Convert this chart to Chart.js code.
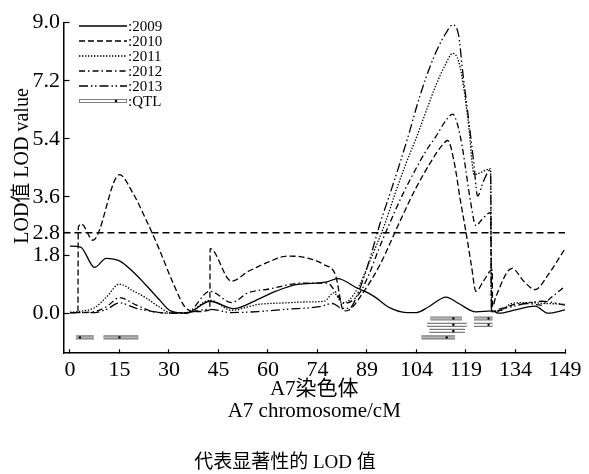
<!DOCTYPE html>
<html>
<head>
<meta charset="utf-8">
<script src="https://cdn.jsdelivr.net/npm/chart.js@4.4.1/dist/chart.umd.min.js"></script>
<style>
  html, body { margin: 0; padding: 0; background: #fff; }
  #wrap { width: 589px; height: 474px; }
</style>
</head>
<body>
<div id="wrap"><canvas id="c" width="589" height="474"></canvas></div>
<script>
// ---------- data ----------
const seriesNames = ['2009', '2010', '2011', '2012', '2013'];
const legendLabels = [':2009', ':2010', ':2011', ':2012', ':2013', ':QTL'];

const x2009 = [0, 3.2, 7.4, 10.9, 14.9, 18.9, 22.8, 26.8, 30.3, 35, 42.2, 49.2, 56.6, 62, 68.5, 77, 80.5, 86.4, 91.4, 96.2, 101.3, 104.3, 108, 113.2, 117, 122.2, 127.1, 129.1, 134, 140, 143.9, 149];
const lod2009 = [2.08, 2.05, 1.42, 1.70, 1.62, 1.29, 0.88, 0.43, 0.07, 0.0, 0.37, 0.14, 0.43, 0.68, 0.89, 0.96, 1.07, 0.78, 0.53, 0.17, 0.02, 0.02, 0.2, 0.5, 0.3, 0.04, 0.07, 0.0, 0.1, 0.22, 0.0, 0.1];

const x2010 = [0, 2.4, 2.5, 3.5, 6.9, 14.9, 18.9, 22.8, 26.8, 30.8, 34.8, 38, 42.1, 42.2, 48.6, 53.6, 56.6, 60, 65.6, 71, 76.5, 79.9, 82.4, 84, 88, 93.3, 99.2, 104, 109, 112, 113.7, 115.7, 117.5, 119.2, 120.8, 122.2, 124.5, 127.1, 127.2, 128.1, 133.1, 136.5, 140, 144, 149];
const lod2010 = [0.02, 0.02, 2.65, 2.76, 2.26, 4.29, 3.73, 2.92, 2.0, 0.99, 0.17, 0.05, 0.1, 2.0, 0.99, 1.29, 1.44, 1.6, 1.77, 1.72, 1.5, 1.19, 0.07, 0.1, 0.6, 1.5, 2.82, 3.85, 4.75, 5.2, 5.35, 4.65, 3.5, 2.51, 1.5, 0.68, 1.0, 1.34, 0.2, 0.48, 1.39, 1.0, 0.73, 1.2, 2.0];

const x2011 = [0, 2.5, 7.4, 11, 14.9, 18.9, 22.8, 26.8, 30.3, 35, 42.2, 48.6, 56.6, 65, 72, 76.5, 79.4, 82, 84, 87, 90, 94.9, 98, 101, 104.3, 107, 110.3, 113, 115.2, 117, 118.5, 120, 121.7, 123.2, 126.6, 126.9, 130, 133, 138, 143, 149];
const lod2011 = [0.03, 0.05, 0.17, 0.5, 0.9, 0.7, 0.48, 0.2, 0.02, 0.02, 0.4, 0.09, 0.27, 0.32, 0.35, 0.37, 0.63, 0.32, 0.4, 0.85, 1.55, 2.8, 3.75, 4.6, 5.45, 6.2, 7.1, 7.7, 8.05, 7.8, 7.0, 5.8, 4.29, 4.34, 4.47, 0.05, 0.1, 0.3, 0.33, 0.3, 0.28];

const x2012 = [0, 2.5, 7.4, 11, 14.9, 20, 25, 30, 35, 42.2, 48.6, 53.6, 60, 69.7, 77.5, 80, 82.5, 87, 90, 93, 96.3, 100, 104, 107, 110.3, 113, 115.2, 116.5, 118, 119.2, 120.5, 122.2, 124, 126.6, 126.9, 130, 133, 138, 141.5, 145, 149];
const lod2012 = [0.02, 0.02, 0.05, 0.2, 0.48, 0.25, 0.05, 0.0, 0.0, 0.68, 0.33, 0.63, 0.75, 0.93, 0.93, 0.65, 0.3, 0.6, 1.2, 2.0, 2.8, 3.65, 4.45, 5.0, 5.5, 5.95, 6.17, 5.9, 5.2, 4.4, 3.5, 2.71, 2.9, 3.12, 0.05, 0.1, 0.25, 0.3, 0.25, 0.5, 0.83];

const x2013 = [0, 2.5, 7.4, 11, 14.9, 20, 25, 30, 35, 42.2, 48.6, 56.6, 65, 75, 79, 82, 84, 87, 90, 93.4, 96, 99, 102, 104.5, 107, 110, 113, 115.2, 117, 118.2, 120, 121.5, 122.7, 124.5, 126.6, 126.9, 130, 133, 137, 142, 149];
const lod2013 = [0.02, 0.02, 0.02, 0.12, 0.32, 0.15, 0.05, 0.0, 0.02, 0.12, 0.02, 0.05, 0.12, 0.2, 0.3, 0.15, 0.15, 0.7, 1.6, 2.8, 3.6, 4.55, 5.55, 6.45, 7.25, 8.05, 8.65, 8.93, 8.6, 7.49, 6.0, 4.7, 3.63, 4.1, 4.45, 0.05, 0.15, 0.2, 0.3, 0.37, 0.25];

// significance threshold (drawn where the "2.8" tick sits in the figure)
const thresholdPos = 2.49;

// QTL confidence intervals
const qtlStart  = [1.8, 10.1, 108.5, 121.6, 107.5, 121.6, 108.2, 105.8];
const qtlEnd    = [7.2, 20.6, 118.0, 127.2, 119.4, 127.2, 118.9, 115.9];
const qtlPeak   = [3.0, 14.9, 115.4, 126.0, 115.4, 126.0, 115.4, 113.4];
const qtlRow    = [-0.75, -0.75, -0.165, -0.165, -0.36, -0.36, -0.55, -0.75];
const qtlHollow = [false, false, false, false, true, true, true, false];

// axes
const xTickValues = [0, 14.9, 29.8, 44.7, 59.6, 74.5, 89.4, 104.3, 119.2, 134.1, 149];
const xTickLabels = ['0', '15', '30', '45', '60', '74', '89', '104', '119', '134', '149'];
const yTickValues = [0, 1.8, 2.49, 3.6, 5.4, 7.2, 9.0];
const yTickLabels = ['0.0', '1.8', '2.8', '3.6', '5.4', '7.2', '9.0'];
const X_MIN = -1.94, X_MAX = 149, Y_MIN = -1.24, Y_MAX = 9.0;

// ---------- styles ----------
const SERIF = '"Liberation Serif", "Times New Roman", "Noto Sans CJK SC", serif';
const dashes = [[], [6, 3], [1.4, 1.6], [6, 3, 1.5, 3], [9, 3, 1.5, 2.5, 1.5, 3]];
const xs = [x2009, x2010, x2011, x2012, x2013];
const ys = [lod2009, lod2010, lod2011, lod2012, lod2013];

const pts = (xa, ya) => xa.map((x, i) => ({ x: x, y: ya[i] }));

const datasets = seriesNames.map((name, k) => ({
  label: name,
  data: pts(xs[k], ys[k]),
  borderColor: '#000',
  borderWidth: 1.3,
  borderDash: dashes[k],
  pointRadius: 0,
  cubicInterpolationMode: 'monotone',
  fill: false,
  order: 5 - k
}));

datasets.push({
  label: 'threshold',
  data: [{ x: X_MIN, y: thresholdPos }, { x: X_MAX, y: thresholdPos }],
  borderColor: '#000', borderWidth: 1.4, borderDash: [7, 4],
  pointRadius: 0, order: 6
});

function qtlLine(filter) {
  const d = [];
  qtlStart.forEach((s, i) => {
    if (!filter(i)) return;
    d.push({ x: s, y: qtlRow[i] }, { x: qtlEnd[i], y: qtlRow[i] }, { x: qtlEnd[i], y: null });
  });
  return d;
}
datasets.push({ label: 'QTL', data: qtlLine(() => true), borderColor: '#7d7d7d', borderWidth: 4.2, pointRadius: 0, spanGaps: false, order: 12 });
datasets.push({ label: 'QTLinF', data: qtlLine(i => !qtlHollow[i]), borderColor: '#b8b8b8', borderWidth: 1.8, pointRadius: 0, spanGaps: false, order: 11 });
datasets.push({ label: 'QTLinH', data: qtlLine(i => qtlHollow[i]), borderColor: '#ffffff', borderWidth: 1.8, pointRadius: 0, spanGaps: false, order: 11 });
datasets.push({ label: 'QTLpk', type: 'scatter', data: pts(qtlPeak, qtlRow), backgroundColor: '#000', borderColor: '#000', pointRadius: 1.2, borderWidth: 0, order: 10 });

// ---------- plugins ----------
const legendPlugin = {
  id: 'customLegend',
  afterDatasetsDraw(chart) {
    const ctx = chart.ctx;
    const x0 = 79, x1 = 127, y0 = 26, step = 15;
    ctx.save();
    ctx.font = '15px ' + SERIF;
    ctx.textBaseline = 'middle';
    ctx.textAlign = 'left';
    ctx.fillStyle = '#000';
    for (let k = 0; k < 5; k++) {
      const y = y0 + k * step;
      ctx.beginPath();
      ctx.setLineDash(dashes[k]);
      ctx.lineWidth = 1.3;
      ctx.strokeStyle = '#000';
      ctx.moveTo(x0, y); ctx.lineTo(x1, y); ctx.stroke();
      ctx.fillText(legendLabels[k], x1 + 1, y + 1);
    }
    const yq = y0 + 5 * step;
    ctx.setLineDash([]);
    ctx.beginPath(); ctx.lineWidth = 4.2; ctx.strokeStyle = '#7d7d7d';
    ctx.moveTo(x0, yq); ctx.lineTo(x1, yq); ctx.stroke();
    ctx.beginPath(); ctx.lineWidth = 1.8; ctx.strokeStyle = '#fff';
    ctx.moveTo(x0 + 1, yq); ctx.lineTo(x1 - 1, yq); ctx.stroke();
    ctx.beginPath(); ctx.fillStyle = '#000'; ctx.arc(x1 - 11, yq, 1.3, 0, Math.PI * 2); ctx.fill();
    ctx.fillText(legendLabels[5], x1 + 1, yq + 1);
    ctx.restore();
  }
};

const yTitlePlugin = {
  id: 'yTitle',
  afterDraw(chart) {
    const ctx = chart.ctx;
    ctx.save();
    ctx.translate(23, 166);
    ctx.rotate(-Math.PI / 2);
    ctx.font = '20px ' + SERIF;
    ctx.fillStyle = '#000';
    ctx.textAlign = 'center';
    ctx.textBaseline = 'middle';
    ctx.fillText('LOD值 LOD value', 0, 0);
    ctx.restore();
  }
};

Chart.defaults.font.family = SERIF;
Chart.defaults.color = '#000';

new Chart(document.getElementById('c'), {
  type: 'line',
  data: { datasets: datasets },
  plugins: [legendPlugin, yTitlePlugin],
  options: {
    responsive: false,
    animation: false,
    devicePixelRatio: 1,
    layout: { padding: { top: 17.5, right: 19, left: 0, bottom: 0 } },
    plugins: {
      legend: { display: false },
      tooltip: { enabled: false },
      title: {
        display: true, position: 'bottom', text: '代表显著性的 LOD 值',
        font: { size: 19, family: SERIF, weight: 'normal', lineHeight: 1.2 },
        padding: { top: 4, bottom: 0 }, color: '#000'
      }
    },
    scales: {
      x: {
        type: 'linear', min: X_MIN, max: X_MAX,
        afterBuildTicks: s => { s.ticks = xTickValues.map(v => ({ value: v })); },
        ticks: { callback: (v, i) => xTickLabels[i], font: { size: 22 }, color: '#000', padding: 7.5, maxRotation: 0, autoSkip: false },
        grid: { drawOnChartArea: false, tickLength: -4, color: '#000', tickWidth: 1.2 },
        border: { color: '#000', width: 1.5 },
        title: { display: true, text: ['A7染色体', 'A7 chromosome/cM'], font: { size: 21, lineHeight: 1.05 }, padding: { top: 0, bottom: 25 }, color: '#000' },
        afterFit: s => { s.height = 94; }
      },
      y: {
        type: 'linear', min: Y_MIN, max: Y_MAX,
        afterBuildTicks: s => { s.ticks = yTickValues.map(v => ({ value: v })); },
        ticks: { callback: (v, i) => yTickLabels[i], font: { size: 22 }, color: '#000', padding: 9.5, autoSkip: false },
        grid: { drawOnChartArea: false, tickLength: -6, color: '#000', tickWidth: 1.2 },
        border: { color: '#000', width: 1.5 },
        title: { display: false },
        afterFit: s => { s.width = 63.5; }
      }
    }
  }
});
</script>
</body>
</html>
